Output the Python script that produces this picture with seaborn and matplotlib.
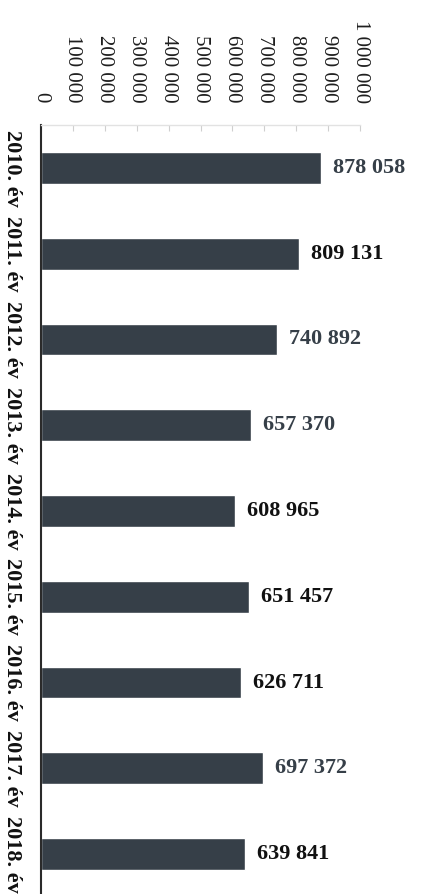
import matplotlib
matplotlib.use("Agg")
import matplotlib.pyplot as plt
import pandas as pd
import seaborn as sns

# Data
years = ["2010. év", "2011. év", "2012. év", "2013. év", "2014. év",
         "2015. év", "2016. év", "2017. év", "2018. év"]
values = [878058, 809131, 740892, 657370, 608965, 651457, 626711, 697372, 639841]
x_ticks = [0, 100000, 200000, 300000, 400000, 500000, 600000, 700000, 800000, 900000, 1000000]

BAR = "#363f48"
# scanned labels alternate between slate and near black
label_colors = [BAR, "#111111", BAR, BAR, "#111111", "#111111", "#111111", BAR, "#111111"]


def fmt(v):
    """Hungarian style thousands separator (space)."""
    return f"{v:,}".replace(",", " ")


df = pd.DataFrame({"year": years, "value": values})

sns.set_style("white")
plt.rcParams["font.family"] = ["Liberation Serif", "DejaVu Serif"]

W, H = 421, 894
fig = plt.figure(figsize=(W / 100, H / 100), dpi=100)
# axes in pixel terms: left 41, top 125, right 360, bottom 897
ax = fig.add_axes([41 / W, (H - 897) / H, 319 / W, 772 / H])

sns.barplot(data=df, y="year", x="value", orient="h", color=BAR,
            width=0.37, saturation=1, ax=ax)

ax.set_xlim(0, 1000000)
ax.set_ylim(len(years) - 0.5, -0.5)
ax.set_xlabel("")
ax.set_ylabel("")

# value axis on top, labels rotated to read top-to-bottom
ax.xaxis.set_ticks_position("top")
ax.xaxis.set_label_position("top")
ax.set_xticks(x_ticks)
ax.set_xticklabels([fmt(t) for t in x_ticks], rotation=-90, fontsize=15)
ax.tick_params(axis="x", which="both", top=True, bottom=False, direction="in",
               length=4, width=0.8, color="#cfcfcf", pad=16, labelcolor="#1e1e1e")

# category labels rotated the same way
ax.set_yticks(range(len(years)))
ax.set_yticklabels(years, rotation=-90, fontsize=16, fontweight="bold",
                   va="center", ha="center", rotation_mode="anchor")
ax.tick_params(axis="y", left=False, pad=0, labelcolor="#111111")
for lab in ax.get_yticklabels():
    lab.set_x(-0.075)

for s in ["right", "bottom"]:
    ax.spines[s].set_visible(False)
ax.spines["top"].set_color("#e2e2e2")
ax.spines["top"].set_linewidth(1.0)
ax.spines["left"].set_color("#2a2a2a")
ax.spines["left"].set_linewidth(1.5)

# value labels at the end of each bar
for patch, v, c in zip(ax.patches, values, label_colors):
    ax.annotate(fmt(v), (patch.get_width(), patch.get_y() + patch.get_height() / 2),
                xytext=(12, 0), textcoords="offset pixels", va="center", ha="left",
                fontsize=16, fontweight="bold", color=c)

fig.savefig("out.png", dpi=100)
